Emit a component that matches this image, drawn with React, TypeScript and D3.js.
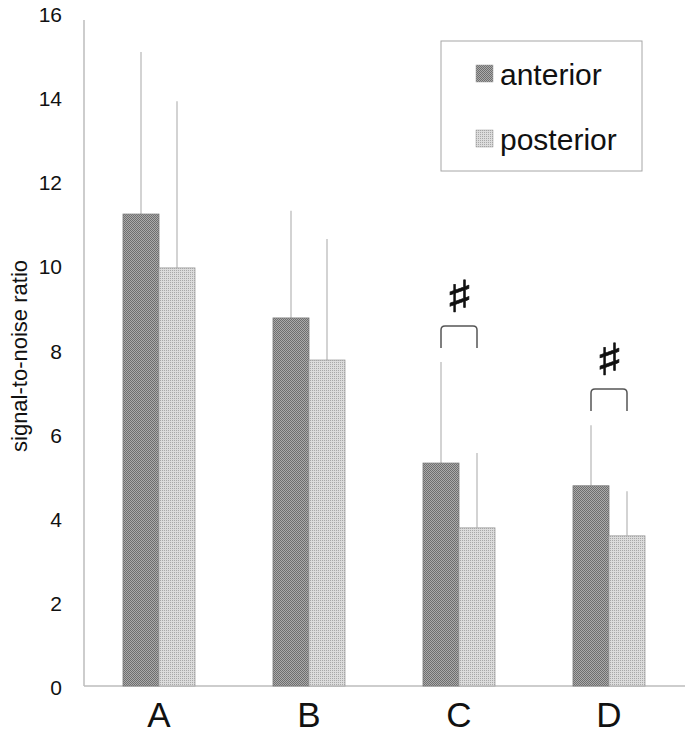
import React, { useEffect, useRef } from 'react'
import * as d3 from 'd3'

// values
const categories = ['A', 'B', 'C', 'D']
const anterior = [11.22, 8.75, 5.3, 4.76]
const posterior = [9.94, 7.75, 3.76, 3.57]
const anteriorErr = [3.85, 2.55, 2.4, 1.44]
const posteriorErr = [3.96, 2.88, 1.78, 1.06]
const yTicks = [0, 2, 4, 6, 8, 10, 12, 14, 16]
const sigCategories = ['C', 'D']
const sigLevel = [8.56, 7.06]
const seriesNames = ['anterior', 'posterior']

const width = 685
const height = 733

export default function App() {
  const ref = useRef<SVGSVGElement | null>(null)

  useEffect(() => {
    const svg = d3.select(ref.current)
    svg.selectAll('*').remove()

    const left = 84, right = 684, bottom = 686, top = 13
    const font = 'Liberation Sans, Arial, sans-serif'

    const x = d3.scaleBand<string>().domain(categories).range([left, right])
    const y = d3.scaleLinear().domain([0, 16]).range([bottom, top])
    const barW = 36

    // fill patterns
    const defs = svg.append('defs')
    const dark = defs.append('pattern').attr('id', 'pat-ant')
      .attr('width', 2).attr('height', 2).attr('patternUnits', 'userSpaceOnUse')
    dark.append('rect').attr('width', 2).attr('height', 2).attr('fill', '#ababab')
    dark.append('rect').attr('width', 1).attr('height', 1).attr('fill', '#6e6e6e')
    dark.append('rect').attr('x', 1).attr('y', 1).attr('width', 1).attr('height', 1).attr('fill', '#6e6e6e')
    const light = defs.append('pattern').attr('id', 'pat-post')
      .attr('width', 2).attr('height', 2).attr('patternUnits', 'userSpaceOnUse')
    light.append('rect').attr('width', 2).attr('height', 2).attr('fill', '#dcdcdc')
    light.append('rect').attr('width', 1).attr('height', 1).attr('fill', '#a8a8a8')
    const fills = ['url(#pat-ant)', 'url(#pat-post)']

    const series = [
      { vals: anterior, err: anteriorErr },
      { vals: posterior, err: posteriorErr },
    ]

    // axes lines
    svg.append('line').attr('x1', left).attr('x2', left).attr('y1', 20).attr('y2', bottom)
      .attr('stroke', '#bdbdbd').attr('stroke-width', 1.5)
    svg.append('line').attr('x1', left).attr('x2', width).attr('y1', bottom).attr('y2', bottom)
      .attr('stroke', '#bdbdbd').attr('stroke-width', 1.5)

    // bars + error bars
    series.forEach((s, si) => {
      categories.forEach((c, i) => {
        const cx = x(c)! + x.bandwidth() / 2
        const bx = cx - barW + si * barW
        svg.append('line')
          .attr('x1', bx + barW / 2).attr('x2', bx + barW / 2)
          .attr('y1', y(s.vals[i])).attr('y2', y(s.vals[i] + s.err[i]))
          .attr('stroke', '#c4c4c4').attr('stroke-width', 1.5)
        svg.append('rect')
          .attr('x', bx).attr('y', y(s.vals[i]))
          .attr('width', barW).attr('height', bottom - y(s.vals[i]))
          .attr('fill', fills[si]).attr('stroke', si === 0 ? '#7a7a7a' : '#a0a0a0').attr('stroke-width', 0.8)
      })
    })

    // y tick labels
    svg.selectAll('text.ytick').data(yTicks).enter().append('text')
      .attr('class', 'ytick')
      .attr('x', 62).attr('y', d => y(d) + 9)
      .attr('text-anchor', 'end')
      .attr('font-family', font).attr('font-size', 21).attr('fill', '#111')
      .text(d => d)

    // category labels
    categories.forEach(c => {
      const cx = x(c)! + x.bandwidth() / 2
      svg.append('text')
        .attr('x', cx).attr('y', 727)
        .attr('text-anchor', 'middle')
        .attr('font-family', font).attr('font-size', 35).attr('fill', '#111')
        .text(c)
    })

    // y axis title
    svg.append('text')
      .attr('transform', 'translate(27,356) rotate(-90)')
      .attr('text-anchor', 'middle')
      .attr('font-family', font).attr('font-size', 22).attr('fill', '#111')
      .text('signal-to-noise ratio')

    // significance brackets
    sigCategories.forEach((c, i) => {
      const cx = x(c)! + x.bandwidth() / 2
      const x1 = cx - barW / 2, x2 = cx + barW / 2
      const yt = y(sigLevel[i]), yb = yt + 22, r = 4
      svg.append('path')
        .attr('d', `M${x1},${yb} L${x1},${yt + r} Q${x1},${yt} ${x1 + r},${yt} L${x2 - r},${yt} Q${x2},${yt} ${x2},${yt + r} L${x2},${yb}`)
        .attr('fill', 'none').attr('stroke', '#555').attr('stroke-width', 1.5)
      svg.append('text')
        .attr('transform', `translate(${cx},${yt - 14}) scale(1.35,1)`)
        .attr('text-anchor', 'middle')
        .attr('font-family', 'DejaVu Sans, sans-serif').attr('font-weight', 'bold')
        .attr('font-size', 44).attr('fill', '#111')
        .attr('stroke', '#111').attr('stroke-width', 0.6)
        .text('\u266F')
    })

    // legend
    const lg = svg.append('g')
    lg.append('rect').attr('x', 441).attr('y', 41).attr('width', 201).attr('height', 130)
      .attr('fill', '#fff').attr('stroke', '#a6a6a6').attr('stroke-width', 1)
    seriesNames.forEach((n, i) => {
      const yy = 65 + i * 65
      lg.append('rect').attr('x', 476).attr('y', yy).attr('width', 17).attr('height', 17)
        .attr('fill', fills[i]).attr('stroke', '#999').attr('stroke-width', 0.5)
      lg.append('text').attr('x', 500).attr('y', yy + 20)
        .attr('font-family', font).attr('font-size', 30).attr('fill', '#111')
        .text(n)
    })
  }, [])

  return (
    <div style={{ position: 'absolute', left: 0, top: 0 }}>
      <svg ref={ref} width={width} height={height} style={{ display: 'block', background: '#fff' }} />
    </div>
  )
}
